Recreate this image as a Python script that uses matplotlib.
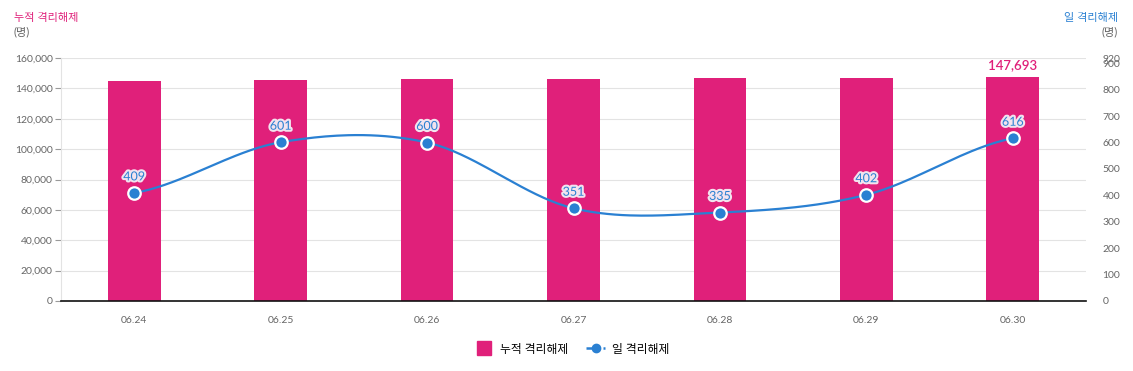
import numpy as np
import matplotlib.pyplot as plt
import matplotlib.patheffects as pe
from matplotlib.lines import Line2D

plt.rcParams['font.family'] = ['Lato', 'Noto Sans CJK KR', 'DejaVu Sans']

# data
dates = ['06.24', '06.25', '06.26', '06.27', '06.28', '06.29', '06.30']
cumulative = [144788, 145389, 145989, 146340, 146675, 147077, 147693]
daily = [409, 601, 600, 351, 335, 402, 616]

PINK = '#e0207a'
BLUE = '#2a80d2'
GRID = '#e3e3e3'
TXT = '#666666'


def catmull_rom(x, y, n=40):
    # smooth curve through the points (cardinal spline, like the web chart)
    x = np.asarray(x, float)
    y = np.asarray(y, float)
    px = np.concatenate([[2 * x[0] - x[1]], x, [2 * x[-1] - x[-2]]])
    py = np.concatenate([[y[0]], y, [y[-1]]])
    xs, ys = [], []
    for i in range(1, len(px) - 2):
        t = np.linspace(0, 1, n)
        for arr, out in ((px, xs), (py, ys)):
            p0, p1, p2, p3 = arr[i - 1], arr[i], arr[i + 1], arr[i + 2]
            out.extend(0.5 * ((2 * p1) + (-p0 + p2) * t
                              + (2 * p0 - 5 * p1 + 4 * p2 - p3) * t ** 2
                              + (-p0 + 3 * p1 - 3 * p2 + p3) * t ** 3))
    return np.array(xs), np.array(ys)


fig = plt.figure(figsize=(11.33, 3.71), dpi=100)
ax = fig.add_axes([61 / 1133, 1 - 301 / 371, 1025 / 1133, 243 / 371])
ax2 = ax.twinx()

x = np.arange(len(dates))
ax.bar(x, cumulative, width=0.36, color=PINK, zorder=2)
ax.set_xlim(-0.5, len(dates) - 0.5)
ax.set_ylim(0, 160000)
ax.set_yticks(np.arange(0, 160001, 20000))
ax.set_yticklabels([f'{v:,}' for v in np.arange(0, 160001, 20000)])
ax.set_xticks(x)
ax.set_xticklabels(dates)
ax.grid(axis='y', color=GRID, linewidth=0.8, zorder=0)
ax.set_axisbelow(True)
for s in ['top', 'right']:
    ax.spines[s].set_visible(False)
ax.spines['left'].set_color(GRID)
ax.spines['bottom'].set_color('#111111')
ax.spines['bottom'].set_linewidth(1.2)
ax.tick_params(axis='y', length=4, color='#999999', labelsize=7.5, labelcolor=TXT, pad=2)
ax.tick_params(axis='x', length=0, labelsize=7.5, labelcolor=TXT, pad=11)

ax.text(x[-1], cumulative[-1] + 3500, f'{cumulative[-1]:,}',
        ha='center', va='bottom', color=PINK, fontsize=9.5, fontweight='semibold')

sx, sy = catmull_rom(x, daily)
ax2.plot(sx, sy, color=BLUE, linewidth=1.6, zorder=3)
ax2.plot(x, daily, 'o', color=BLUE, markersize=9, markeredgecolor='white',
         markeredgewidth=1.6, zorder=4)
for xi, v in zip(x, daily):
    ax2.text(xi, v + 40, str(v), ha='center', va='bottom', color=BLUE, fontsize=9,
             zorder=5, path_effects=[pe.withStroke(linewidth=3, foreground='#f3e3ee')])
ax2.set_ylim(0, 920)
ax2.set_yticks(list(range(0, 901, 100)) + [920])
for s in ['top', 'left', 'bottom', 'right']:
    ax2.spines[s].set_visible(False)
ax2.tick_params(axis='y', length=0, labelsize=7.5, labelcolor=TXT, pad=12)

fig.text(14 / 1133, 1 - 17 / 371, '누적 격리해제', color=PINK, fontsize=8, va='center', ha='left')
fig.text(14 / 1133, 1 - 32 / 371, '(명)', color=TXT, fontsize=8, va='center', ha='left')
fig.text(1118 / 1133, 1 - 17 / 371, '일 격리해제', color=BLUE, fontsize=8, va='center', ha='right')
fig.text(1118 / 1133, 1 - 32 / 371, '(명)', color=TXT, fontsize=8, va='center', ha='right')

handles = [Line2D([], [], color=PINK, marker='s', markersize=10, linestyle='none'),
           Line2D([], [], color=BLUE, linestyle=(0, (2.2, 1.2)), marker='o',
                  markersize=6, linewidth=1.8)]
fig.legend(handles, ['누적 격리해제', '일 격리해제'], loc='center',
           bbox_to_anchor=(572 / 1133, 1 - 349 / 371), ncol=2, frameon=False,
           fontsize=8.5, handlelength=1.6, columnspacing=1.5, handletextpad=0.6)

fig.savefig('out.png', dpi=100)
